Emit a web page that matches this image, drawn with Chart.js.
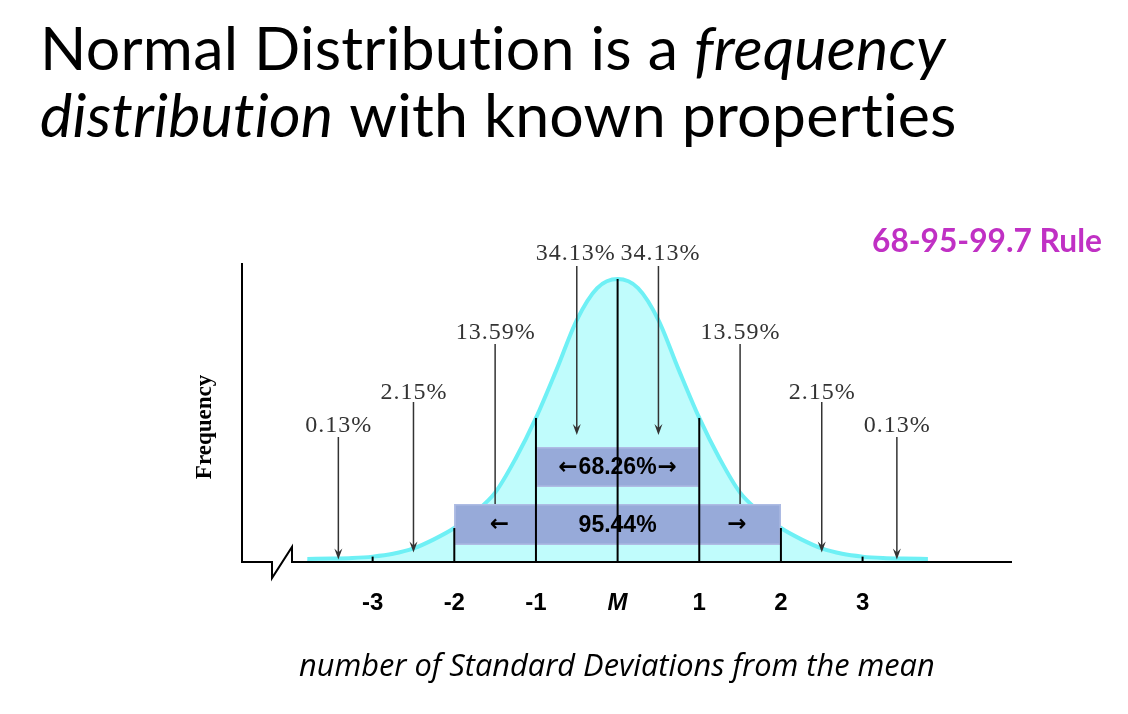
<!DOCTYPE html>
<html>
<head>
<meta charset="utf-8">
<script src="https://cdn.jsdelivr.net/npm/chart.js@4.4.1/dist/chart.umd.min.js"></script>
<style>
  html, body { margin: 0; padding: 0; background: #fff; }
  canvas { display: block; }
</style>
</head>
<body>
<canvas id="chart" width="1128" height="714"></canvas>
<script>
'use strict';

// ── Data (peak = 100) ───────────────────────────────────────────────────────
const sdSteps   = [-3.8, -3.5, -3.25, -3, -2.75, -2.5, -2.25, -2, -1.75, -1.5, -1.25, -1, -0.75, -0.5, -0.25,
                   0, 0.25, 0.5, 0.75, 1, 1.25, 1.5, 1.75, 2, 2.25, 2.5, 2.75, 3, 3.25, 3.5, 3.8];
const frequency = [1.1, 1.2, 1.4, 1.9, 2.9, 4.8, 8.0, 12.0, 17.5, 24.5, 36.5, 50.9, 67.8, 85.5, 96.8,
                   100, 96.8, 85.5, 67.8, 50.9, 36.5, 24.5, 17.5, 12.0, 8.0, 4.8, 2.9, 1.9, 1.4, 1.2, 1.1];
const tickValues = [-3, -2, -1, 0, 1, 2, 3];
const tickLabels = ['-3', '-2', '-1', 'M', '1', '2', '3'];
const areaSD     = [-3.42, -2.5, -1.5, -0.5, 0.5, 1.5, 2.5, 3.42];
const areaLabels = ['0.13%', '2.15%', '13.59%', '34.13%', '34.13%', '13.59%', '2.15%', '0.13%'];
const bandFrom   = [-1, -2];
const bandTo     = [1, 2];
const bandLabels = ['68.26%', '95.44%'];

// ── Text ─────────────────────────────────────────────────────────────────────
const TITLE_1 = ['Normal Distribution is a ', 'frequency'];
const TITLE_2 = ['distribution', ' with known properties'];
const RULE    = '68-95-99.7 Rule';
const X_TITLE = 'number of Standard Deviations from the mean';
const Y_TITLE = 'Frequency';
const LEFT = '\u2190', RIGHT = '\u2192';

// ── Helpers ──────────────────────────────────────────────────────────────────
function fitSize(ctx, parts, width) {
  // parts: [[style, family, text], ...] → font size that makes them `width` wide
  let w = 0;
  parts.forEach(([style, fam, txt]) => { ctx.font = style + ' 100px ' + fam; w += ctx.measureText(txt).width; });
  return 100 * width / w;
}

function curveAt(z) {
  for (let i = 1; i < sdSteps.length; i++) {
    if (z <= sdSteps[i]) {
      const t = (z - sdSteps[i - 1]) / (sdSteps[i] - sdSteps[i - 1]);
      return frequency[i - 1] + t * (frequency[i] - frequency[i - 1]);
    }
  }
  return frequency[frequency.length - 1];
}

function arrow(ctx, px, y0, y1, head) {
  ctx.beginPath();
  ctx.moveTo(px, y0);
  ctx.lineTo(px, head ? y1 - 6 : y1);
  ctx.stroke();
  if (!head) return;
  ctx.beginPath();
  ctx.moveTo(px, y1);
  ctx.lineTo(px - 4, y1 - 11);
  ctx.lineTo(px, y1 - 7);
  ctx.lineTo(px + 4, y1 - 11);
  ctx.closePath();
  ctx.fill();
}

// ── Plugin: axes, annotations and slide text ─────────────────────────────────
const slide = {
  id: 'slide',
  afterDatasetsDraw(chart) {
    const { ctx, chartArea: area, scales: { x, y } } = chart;
    const base = y.getPixelForValue(0);
    ctx.save();

    // axes with break mark
    ctx.strokeStyle = '#000';
    ctx.lineWidth = 2;
    ctx.beginPath();
    ctx.moveTo(area.left, area.top);
    ctx.lineTo(area.left, base);
    ctx.lineTo(area.left + 30, base);
    ctx.lineTo(area.left + 30, base + 16);
    ctx.lineTo(area.left + 50, base - 15);
    ctx.lineTo(area.left + 50, base);
    ctx.lineTo(area.right, base);
    ctx.stroke();

    // arrows from the percentage labels
    const labelBase = [432, 399, 339, 260];
    const lineStart = [437, 402, 344, 266];
    const box1 = { top: 447, bottom: 487 };
    const box2 = { top: 504, bottom: 545 };
    ctx.strokeStyle = '#333';
    ctx.fillStyle = '#333';
    ctx.lineWidth = 1.5;
    areaSD.forEach((z, i) => {
      const lvl = Math.min(i, areaSD.length - 1 - i);
      const px = x.getPixelForValue(z);
      let tip, head = true;
      if (lvl === 0) tip = y.getPixelForValue(curveAt(z)) + 1;
      else if (lvl === 1) tip = y.getPixelForValue(curveAt(z)) + 4;
      else if (lvl === 2) { tip = box2.top + 4; head = false; }
      else tip = box1.top - 12;
      arrow(ctx, px, lineStart[lvl], tip, head);
    });

    // bands
    const boxes = [box1, box2];
    bandFrom.forEach((f, i) => {
      const l = x.getPixelForValue(f), r = x.getPixelForValue(bandTo[i]);
      const b = boxes[i];
      ctx.fillStyle = '#97aad9';
      ctx.fillRect(l, b.top, r - l, b.bottom - b.top);
      ctx.strokeStyle = '#aebce4';
      ctx.lineWidth = 1.5;
      ctx.strokeRect(l + 0.75, b.top + 0.75, r - l - 1.5, b.bottom - b.top - 1.5);
    });

    // SD lines up to the curve
    ctx.strokeStyle = '#000';
    ctx.lineWidth = 2;
    tickValues.forEach(v => {
      const px = x.getPixelForValue(v);
      ctx.beginPath();
      ctx.moveTo(px, base);
      ctx.lineTo(px, y.getPixelForValue(curveAt(v)));
      ctx.stroke();
    });

    // band labels
    const numFont = 'bold 23px "Liberation Sans", sans-serif';
    const arrFont = 'bold 23px "DejaVu Sans", sans-serif';
    ctx.fillStyle = '#000';
    ctx.textBaseline = 'middle';
    const c1 = (box1.top + box1.bottom) / 2 + 1;
    const c2 = (box2.top + box2.bottom) / 2 + 1;
    const mid = x.getPixelForValue(0);
    ctx.font = numFont;
    const lw = ctx.measureText(bandLabels[0]).width;
    ctx.font = arrFont;
    const aw = ctx.measureText(LEFT).width;
    const bx = mid - (lw + 2 * aw + 2) / 2;
    ctx.textAlign = 'left';
    ctx.fillText(LEFT, bx, c1);
    ctx.font = numFont;
    ctx.fillText(bandLabels[0], bx + aw + 1, c1);
    ctx.font = arrFont;
    ctx.fillText(RIGHT, bx + aw + lw + 2, c1);
    ctx.textAlign = 'center';
    ctx.fillText(LEFT, x.getPixelForValue(bandFrom[1]) + 45, c2);
    ctx.fillText(RIGHT, x.getPixelForValue(bandTo[1]) - 44, c2);
    ctx.font = numFont;
    ctx.fillText(bandLabels[1], mid, c2);

    // percentage labels
    ctx.fillStyle = '#333';
    ctx.textBaseline = 'alphabetic';
    ctx.font = '24px "Liberation Serif", "Times New Roman", serif';
    if ('letterSpacing' in ctx) ctx.letterSpacing = '1px';
    areaSD.forEach((z, i) => {
      const lvl = Math.min(i, areaSD.length - 1 - i);
      const nudge = lvl === 3 ? (z < 0 ? -1.5 : 1.5) : 0;
      ctx.fillText(areaLabels[i], x.getPixelForValue(z) + 0.5 + nudge, labelBase[lvl]);
    });
    if ('letterSpacing' in ctx) ctx.letterSpacing = '0px';

    // tick labels
    ctx.fillStyle = '#000';
    tickValues.forEach((v, i) => {
      ctx.font = (tickLabels[i] === 'M' ? 'italic ' : '') + 'bold 24px "Liberation Sans", sans-serif';
      ctx.fillText(tickLabels[i], x.getPixelForValue(v), 610);
    });

    // axis titles
    ctx.textAlign = 'left';
    const xs = fitSize(ctx, [['italic', '"Open Sans"', X_TITLE]], 636);
    ctx.font = 'italic ' + xs + 'px "Open Sans"';
    ctx.fillText(X_TITLE, 299, 676);

    ctx.save();
    ctx.translate(211, 427);
    ctx.rotate(-Math.PI / 2);
    ctx.textAlign = 'center';
    ctx.font = 'bold 23px "Liberation Serif", serif';
    ctx.fillText(Y_TITLE, 0, 0);
    ctx.restore();

    // slide title (no "ti" ligatures, like the original)
    if ('textRendering' in ctx) ctx.textRendering = 'optimizeSpeed';
    if ('letterSpacing' in ctx) ctx.letterSpacing = '0.2px';
    const ts = fitSize(ctx, [['', 'Lato', TITLE_1[0]], ['italic', 'Lato', TITLE_1[1]]], 903);
    let tx = 40;
    ctx.font = ts + 'px Lato';
    ctx.fillText(TITLE_1[0], tx, 70);
    tx += ctx.measureText(TITLE_1[0]).width;
    ctx.font = 'italic ' + ts + 'px Lato';
    ctx.fillText(TITLE_1[1], tx, 70);
    tx = 40;
    ctx.fillText(TITLE_2[0], tx, 137);
    tx += ctx.measureText(TITLE_2[0]).width;
    ctx.font = ts + 'px Lato';
    ctx.fillText(TITLE_2[1], tx, 137);
    if ('letterSpacing' in ctx) ctx.letterSpacing = '0px';

    // rule label
    const rs = fitSize(ctx, [['bold', 'Lato', RULE]], 230);
    ctx.fillStyle = '#c030c4';
    ctx.font = 'bold ' + rs + 'px Lato';
    ctx.fillText(RULE, 872, 252);

    ctx.restore();
  }
};

// ── Chart ────────────────────────────────────────────────────────────────────
new Chart(document.getElementById('chart'), {
  type: 'line',
  data: {
    datasets: [{
      data: sdSteps.map((z, i) => ({ x: z, y: frequency[i] })),
      borderColor: '#6ef0f5',
      backgroundColor: '#c0fcfc',
      borderWidth: 4,
      fill: 'origin',
      pointRadius: 0,
      cubicInterpolationMode: 'monotone'
    }]
  },
  options: {
    responsive: false,
    devicePixelRatio: 1,
    animation: false,
    layout: { padding: { left: 242, right: 116, top: 263, bottom: 152 } },
    plugins: { legend: { display: false }, tooltip: { enabled: false } },
    scales: {
      x: { type: 'linear', min: -4.6, max: 4.83, display: false },
      y: { min: 0, max: 105.65, display: false }
    }
  },
  plugins: [slide]
});
</script>
</body>
</html>
